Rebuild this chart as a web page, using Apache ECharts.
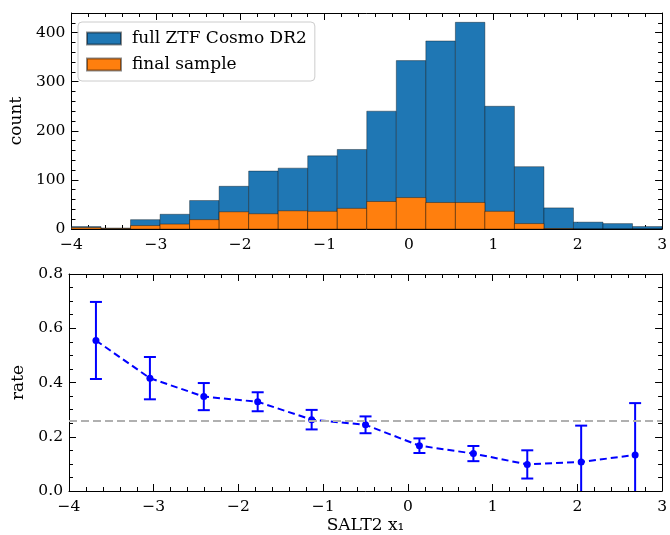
<!DOCTYPE html>
<html><head><meta charset="utf-8">
<script src="https://cdn.jsdelivr.net/npm/echarts@6/dist/echarts.min.js"></script>
<style>html,body{margin:0;padding:0;background:#fff}#c{width:670px;height:535px}</style>
</head><body><div id="c"></div>
<script>
const binEdges = [-4,-3.65,-3.3,-2.95,-2.6,-2.25,-1.9,-1.55,-1.2,-0.85,-0.5,-0.15,0.2,0.55,0.9,1.25,1.6,1.95,2.3,2.65,3.0];
const countAll = [5,2,19,30,58,87,118,124,149,162,240,343,383,421,250,127,43,14,11,5];
const countFinal = [3,1,7,10,19,35,31,37,36,42,56,64,54,54,36,11,1,0,0,0];
const rateX = [-3.682,-3.045,-2.409,-1.773,-1.136,-0.5,0.136,0.773,1.409,2.045,2.682];
const rate = [0.555,0.416,0.348,0.329,0.263,0.244,0.167,0.138,0.098,0.107,0.133];
const rateErr = [0.142,0.078,0.050,0.035,0.036,0.031,0.027,0.028,0.052,0.134,0.191];
const refRate = 0.255;

const FONT = 'DejaVu Serif';
const TICKFS = 15.5;
const NAMEFS = 17;
const fmtMinus = v => (v < 0 ? '\u2212' + Math.abs(v) : String(v));

const histAll = countAll.map((c,i)=>[binEdges[i], binEdges[i+1], c]);
const histFinal = countFinal.map((c,i)=>[binEdges[i], binEdges[i+1], c]);
const ratePts = rateX.map((x,i)=>[x, rate[i]]);
const rateBars = rateX.map((x,i)=>[x, rate[i]-rateErr[i], rate[i]+rateErr[i]]);

function histRender(fill){
  return function(params, api){
    const p0 = api.coord([api.value(0), api.value(2)]);
    const p1 = api.coord([api.value(1), 0]);
    return {type:'rect', shape:{x:p0[0], y:p0[1], width:p1[0]-p0[0], height:p1[1]-p0[1]},
      style:{fill:fill, stroke:'rgba(0,0,0,0.45)', lineWidth:0.8}};
  };
}
function errRender(params, api){
  const top = api.coord([api.value(0), api.value(2)]);
  const bot = api.coord([api.value(0), api.value(1)]);
  const w = 6;
  const st = {stroke:'#0000ff', lineWidth:2};
  return {type:'group', children:[
    {type:'line', shape:{x1:top[0], y1:top[1], x2:bot[0], y2:bot[1]}, style:st},
    {type:'line', shape:{x1:top[0]-w, y1:top[1], x2:top[0]+w, y2:top[1]}, style:st},
    {type:'line', shape:{x1:bot[0]-w, y1:bot[1], x2:bot[0]+w, y2:bot[1]}, style:st}
  ]};
}

const axisLine = {show:true, onZero:false, lineStyle:{color:'#000', width:1}};
const tickIn = {show:true, inside:true, length:7, lineStyle:{color:'#000', width:1}};
const minorIn = n => ({show:true, splitNumber:n, length:4, lineStyle:{color:'#000', width:1}});
const lbl = {fontFamily:FONT, fontSize:TICKFS, color:'#000'};
const nameStyle = {fontFamily:FONT, fontSize:NAMEFS, color:'#000'};

function xAx(grid, pos, showLabel){
  return {type:'value', gridIndex:grid, position:pos, min:-4, max:3, interval:1,
    axisLine:axisLine, axisTick:tickIn, minorTick:minorIn(5), splitLine:{show:false},
    axisLabel:Object.assign({show:showLabel, margin:8, formatter:fmtMinus}, lbl)};
}
function yAx(grid, pos, showLabel, min, max, interval, minorN, fmt, showMax){
  return {type:'value', gridIndex:grid, position:pos, min:min, max:max, interval:interval,
    axisLine:axisLine, axisTick:tickIn, minorTick:minorIn(minorN), splitLine:{show:false},
    axisLabel:Object.assign({show:showLabel, margin:6, formatter:fmt, showMaxLabel:showMax}, lbl)};
}

const chart = echarts.init(document.getElementById('c'), null, {renderer:'canvas'});
chart.setOption({
  animation:false,
  backgroundColor:'#fff',
  grid:[
    {left:69, right:6, top:13, height:216},
    {left:69, right:6, top:274, height:217}
  ],
  xAxis:[
    xAx(0,'bottom',true), xAx(0,'top',false),
    Object.assign(xAx(1,'bottom',true), {name:'SALT2 x\u2081', nameLocation:'middle', nameGap:26, nameTextStyle:nameStyle}),
    xAx(1,'top',false)
  ],
  yAxis:[
    Object.assign(yAx(0,'left',true,0,440,100,5,v=>String(v),false), {name:'count', nameLocation:'middle', nameGap:45, nameTextStyle:nameStyle}),
    yAx(0,'right',false,0,440,100,5),
    Object.assign(yAx(1,'left',true,0,0.8,0.2,4,v=>v.toFixed(1),true), {name:'rate', nameLocation:'middle', nameGap:39, nameTextStyle:nameStyle}),
    yAx(1,'right',false,0,0.8,0.2,4)
  ],
  legend:{
    left:78, top:22, orient:'vertical', itemWidth:34, itemHeight:12, itemGap:9,
    padding:[8,8,8,8], backgroundColor:'rgba(255,255,255,0.85)', borderColor:'#cccccc', borderWidth:1, borderRadius:4,
    textStyle:{fontFamily:FONT, fontSize:17, color:'#000', padding:[0,0,0,6]},
    data:[{name:'full ZTF Cosmo DR2', icon:'rect'},{name:'final sample', icon:'rect'}]
  },
  series:[
    {type:'custom', name:'full ZTF Cosmo DR2', xAxisIndex:0, yAxisIndex:0, data:histAll, clip:true,
      itemStyle:{color:'#1f77b4', borderColor:'rgba(0,0,0,0.45)', borderWidth:0.8}, renderItem:histRender('#1f77b4'),
      encode:{x:[0,1], y:2}},
    {type:'custom', name:'final sample', xAxisIndex:0, yAxisIndex:0, data:histFinal, clip:true,
      itemStyle:{color:'#ff7f0e', borderColor:'rgba(0,0,0,0.45)', borderWidth:0.8}, renderItem:histRender('#ff7f0e'),
      encode:{x:[0,1], y:2}},
    {type:'line', name:'ref', xAxisIndex:2, yAxisIndex:2, data:[], silent:true,
      markLine:{symbol:'none', silent:true, label:{show:false},
        lineStyle:{color:'#b0b0b0', type:[8,4], width:2}, data:[{yAxis:refRate}]}},
    {type:'custom', name:'err', xAxisIndex:2, yAxisIndex:2, data:rateBars, clip:true, renderItem:errRender,
      encode:{x:0, y:[1,2]}, z:3},
    {type:'line', name:'rate', xAxisIndex:2, yAxisIndex:2, data:ratePts, symbol:'circle', symbolSize:7,
      itemStyle:{color:'#0000ff'}, lineStyle:{color:'#0000ff', width:2, type:[7,4]}, z:4}
  ]
});
</script></body></html>
